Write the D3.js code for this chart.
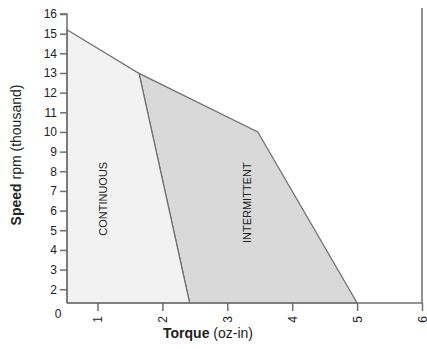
<!DOCTYPE html>
<html>
<head>
<meta charset="utf-8">
<script src="https://cdn.jsdelivr.net/npm/d3@7"></script>
<style>
  body { margin: 0; background: #fff; }
  text { font-family: "Liberation Sans", Arial, sans-serif; fill: #222; }
</style>
</head>
<body>
<svg id="chart" width="427" height="349"></svg>
<script>
// axis ranges as drawn (the plot does not start at 0)
const torqueDomain = [0.53, 6];
const speedDomain = [1.3, 16];

const torqueTicks = [1, 2, 3, 4, 5, 6];
const speedTicks = [2, 3, 4, 5, 6, 7, 8, 9, 10, 11, 12, 13, 14, 15, 16];

// region outlines: torque (oz-in), speed (thousand rpm)
const continuousTorque = [0.53, 1.64, 2.42, 0.53];
const continuousSpeed = [15.2, 12.98, 1.3, 1.3];
const intermittentTorque = [1.64, 3.47, 5.0, 2.42];
const intermittentSpeed = [12.98, 10.0, 1.3, 1.3];

const svg = d3.select('#chart');
const x = d3.scaleLinear().domain(torqueDomain).range([67, 422]);
const y = d3.scaleLinear().domain(speedDomain).range([303, 14]);

const line = d3.line().x(d => x(d[0])).y(d => y(d[1]));
const zip = (a, b) => a.map((v, i) => [v, b[i]]);

svg.append('path')
    .datum(zip(intermittentTorque, intermittentSpeed))
    .attr('d', d => line(d) + 'Z')
    .attr('fill', '#d9d9d9')
    .attr('stroke', '#6e6e6e')
    .attr('stroke-width', 1.2);

svg.append('path')
    .datum(zip(continuousTorque, continuousSpeed))
    .attr('d', d => line(d) + 'Z')
    .attr('fill', '#f2f2f2')
    .attr('stroke', '#6e6e6e')
    .attr('stroke-width', 1.2);

// region labels
svg.append('text')
    .attr('transform', `translate(${x(1.09)}, ${y(6.6)}) rotate(-90)`)
    .attr('text-anchor', 'middle')
    .attr('dy', '0.35em')
    .style('font-size', '11px')
    .text('CONTINUOUS');

svg.append('text')
    .attr('transform', `translate(${x(3.3)}, ${y(6.4)}) rotate(-90)`)
    .attr('text-anchor', 'middle')
    .attr('dy', '0.35em')
    .style('font-size', '11px')
    .text('INTERMITTENT');

// axes
const yAxis = svg.append('g')
    .attr('transform', `translate(${x(torqueDomain[0])}, 0)`)
    .call(d3.axisLeft(y).tickValues(speedTicks).tickFormat(d3.format('d'))
        .tickSize(7).tickPadding(3));

const xAxis = svg.append('g')
    .attr('transform', `translate(0, ${y(speedDomain[0])})`)
    .call(d3.axisBottom(x).tickValues(torqueTicks).tickFormat(d3.format('d'))
        .tickSize(8).tickPadding(3));

xAxis.selectAll('text')
    .attr('transform', 'rotate(-90)')
    .attr('text-anchor', 'end')
    .attr('x', -13)
    .attr('y', 0)
    .attr('dy', '0.35em');

[yAxis, xAxis].forEach(g => {
    g.select('.domain').attr('stroke', '#6e6e6e').attr('stroke-width', 1.5);
    g.selectAll('.tick line').attr('stroke', '#6e6e6e').attr('stroke-width', 1.5);
    g.selectAll('text').style('font-size', '12px').attr('fill', '#222')
        .style('font-family', '"Liberation Sans", Arial, sans-serif');
});
yAxis.select('.domain').attr('d', `M-7,${y(16)}H0V${y(speedDomain[0])}`);
xAxis.select('.domain').attr('d', `M${x(torqueDomain[0])},0H${x(6)}`);

// right edge line
svg.append('line')
    .attr('x1', x(6)).attr('x2', x(6))
    .attr('y1', y(16.3)).attr('y2', y(speedDomain[0]))
    .attr('stroke', '#6e6e6e')
    .attr('stroke-width', 1.5);

// corner zero
svg.append('text')
    .attr('x', 58).attr('y', 318)
    .attr('text-anchor', 'middle')
    .style('font-size', '12px')
    .text('0');

// axis titles
const xt = svg.append('text')
    .attr('x', 208).attr('y', 338)
    .attr('text-anchor', 'middle')
    .style('font-size', '14px');
xt.append('tspan').style('font-weight', 'bold').text('Torque');
xt.append('tspan').text(' (oz-in)');

const yt = svg.append('text')
    .attr('transform', 'translate(21, 155) rotate(-90)')
    .attr('text-anchor', 'middle')
    .style('font-size', '14px');
yt.append('tspan').style('font-weight', 'bold').text('Speed');
yt.append('tspan').text(' rpm (thousand)');
</script>
</body>
</html>
